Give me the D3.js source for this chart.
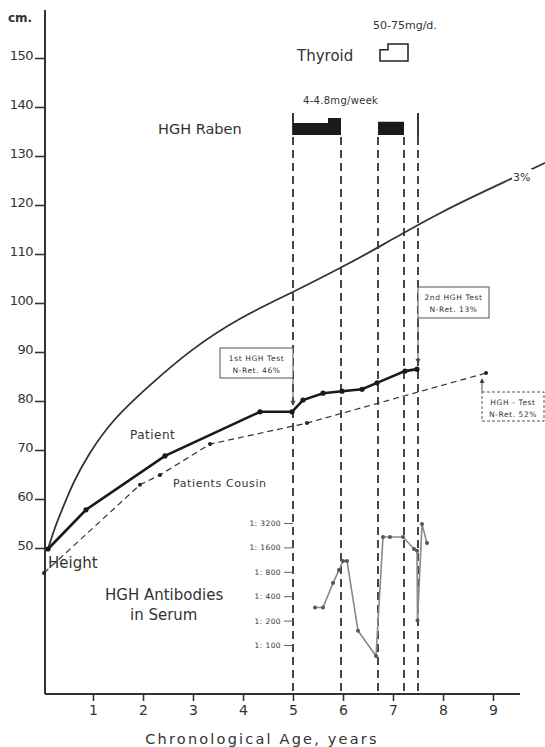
<!DOCTYPE html>
<html><head><meta charset="utf-8">
<script src="https://cdn.jsdelivr.net/npm/d3@7"></script>
<style>
body{margin:0;background:#fff;}
svg text{font-family:"DejaVu Sans",sans-serif;fill:#333;}
</style></head>
<body><svg id="c" width="545" height="747"></svg>
<script>
// ---------- data ----------
const heightTicks = [50,60,70,80,90,100,110,120,130,140,150];
const ageTicks = [1,2,3,4,5,6,7,8,9];
const p3Ages   = [0.1,0.24,0.38,0.6,0.9,1.38,2.14,2.94,3.94,5.0,5.98,6.72,7.94,9.44,10.04];
const p3Height = [49.8,54.3,57.8,63.3,69.0,76.1,83.3,90.4,97.1,102.2,107.3,111.4,118.6,125.7,128.6];
const patientAges   = [0.1,0.86,2.44,4.34,4.98,5.2,5.6,5.98,6.38,6.68,7.24,7.48];
const patientHeight = [49.8,57.8,68.8,77.8,77.8,80.2,81.6,82.0,82.4,83.7,86.1,86.5];
const cousinAges   = [0.02,1.94,2.34,3.34,5.28,8.86];
const cousinHeight = [44.9,62.9,64.9,71.2,75.5,85.7];
const treatLines = [5.0,5.96,6.7,7.22,7.5];           // therapy start/stop ages
const hghStart = [5.0,5.7,6.7];
const hghEnd   = [5.7,5.96,7.22];
const hghDose  = [4.0,4.8,4.2];                        // mg/week
const thyStart = [6.74,6.9];
const thyEnd   = [6.9,7.3];
const thyDose  = [50,75];                              // mg/d
const abTicks = [100,200,400,800,1600,3200];
const abAges   = [5.44,5.6,5.8,5.92,6.0,6.08,6.3,6.66,6.8,6.94,7.2,7.42,7.48,7.49,7.58,7.68];
const abTiter  = [290,290,580,840,1090,1090,150,73,2150,2150,2150,1530,1450,200,3100,1810];
const testAges = [5.0,7.5,8.86];
const testWho  = ["patient","patient","cousin"];
const testLabel = ["1st HGH Test","2nd HGH Test","HGH - Test"];
const testRet  = ["N-Ret. 46%","N-Ret. 13%","N-Ret. 52%"];

// ---------- scales ----------
const svg = d3.select("#c");
const x = d3.scaleLinear().domain([0,10]).range([43,543]);
const y = d3.scaleLinear().domain([50,150]).range([548,58]);
const yAb = d3.scaleLog().base(2).domain([100,3200]).range([645,523]);
const hghH = d3.scaleLinear().domain([4,4.8]).range([12,17]);
const thyH = d3.scaleLinear().domain([0,75]).range([0,17]);
const AX = 45, AY = 694;

// ---------- axes ----------
svg.append("line").attr("x1",AX).attr("x2",AX).attr("y1",10).attr("y2",AY)
  .attr("stroke","#333").attr("stroke-width",2);
svg.append("line").attr("x1",AX).attr("x2",520).attr("y1",AY).attr("y2",AY)
  .attr("stroke","#333").attr("stroke-width",2);

const gy = svg.append("g").attr("transform",`translate(${AX},0)`)
  .call(d3.axisLeft(y).tickValues(heightTicks).tickSize(10).tickPadding(2));
gy.select(".domain").remove();
gy.selectAll(".tick line").attr("stroke","#333").attr("stroke-width",1.6);
gy.selectAll(".tick text").attr("dy","0.1em").attr("font-family","Liberation Sans, sans-serif")
  .attr("font-size",13).attr("fill","#444").attr("letter-spacing","-0.5");
svg.append("text").attr("x",8).attr("y",22).text("cm.").attr("font-size",12).attr("font-weight","bold").attr("fill","#444");

const gx = svg.append("g").attr("transform",`translate(0,${AY})`)
  .call(d3.axisBottom(x).tickValues(ageTicks).tickSize(7).tickPadding(4).tickFormat(d3.format("d")));
gx.select(".domain").remove();
gx.selectAll(".tick line").attr("stroke","#333").attr("stroke-width",1.6);
gx.selectAll(".tick text").attr("font-family","DejaVu Sans, sans-serif").attr("font-size",14).attr("fill","#555");
svg.append("text").attr("x",262).attr("y",744).attr("text-anchor","middle").attr("font-size",14.5)
  .attr("letter-spacing","2.2").attr("fill","#444").text("Chronological  Age,  years");

// ---------- treatment markers ----------
treatLines.forEach(a=>{
  svg.append("line").attr("x1",x(a)).attr("x2",x(a)).attr("y1",137).attr("y2",AY)
    .attr("stroke","#333").attr("stroke-width",1.8).attr("stroke-dasharray","8,5");
});
svg.append("line").attr("x1",x(treatLines[0])).attr("x2",x(treatLines[0])).attr("y1",113).attr("y2",135)
  .attr("stroke","#222").attr("stroke-width",1.8);
svg.append("line").attr("x1",x(7.5)).attr("x2",x(7.5)).attr("y1",113).attr("y2",137)
  .attr("stroke","#222").attr("stroke-width",1.8);
hghStart.forEach((s,i)=>{
  const h = hghH(hghDose[i]);
  svg.append("rect").attr("x",x(s)).attr("width",x(hghEnd[i])-x(s))
    .attr("y",135-h).attr("height",h).attr("fill","#1a1a1a");
});
// thyroid step box
{
  const pts = [[x(thyStart[0]),61],[x(thyStart[0]),61-thyH(thyDose[0])],[x(thyEnd[0]),61-thyH(thyDose[0])],
    [x(thyStart[1]),61-thyH(thyDose[1])],[x(thyEnd[1]),61-thyH(thyDose[1])],[x(thyEnd[1]),61]];
  svg.append("path").attr("d",d3.line()(pts)+"Z").attr("fill","none").attr("stroke","#222").attr("stroke-width",1.5);
}
svg.append("text").attr("x",373).attr("y",29).attr("font-size",11).attr("fill","#333").text("50-75mg/d.");
svg.append("text").attr("x",297).attr("y",61).attr("font-size",15).attr("fill","#333").text("Thyroid");
svg.append("text").attr("x",303).attr("y",104).attr("font-size",10).attr("letter-spacing","0.3").attr("fill","#333").text("4-4.8mg/week");
svg.append("text").attr("x",158).attr("y",134).attr("font-size",14.5).attr("fill","#333").text("HGH  Raben");

// ---------- curves ----------
const smooth = d3.line().x(d=>x(d[0])).y(d=>y(d[1])).curve(d3.curveBasis);
svg.append("path").datum(d3.zip(p3Ages,p3Height))
  .attr("d",smooth).attr("fill","none").attr("stroke","#333").attr("stroke-width",1.8);
svg.append("rect").attr("x",512).attr("y",169).attr("width",20).attr("height",14).attr("fill","#fff");
svg.append("text").attr("x",513).attr("y",181).attr("font-size",11).attr("fill","#333").text("3%");

const lin = d3.line().x(d=>x(d[0])).y(d=>y(d[1]));
const pat = d3.zip(patientAges,patientHeight);
svg.append("path").datum(pat).attr("d",lin).attr("fill","none").attr("stroke","#1a1a1a").attr("stroke-width",2.6);
svg.selectAll(".pdot").data(pat).join("circle").attr("cx",d=>x(d[0])).attr("cy",d=>y(d[1])).attr("r",2.6).attr("fill","#1a1a1a");

const cou = d3.zip(cousinAges,cousinHeight);
svg.append("path").datum(cou).attr("d",lin).attr("fill","none").attr("stroke","#333").attr("stroke-width",1.2).attr("stroke-dasharray","6,4");
svg.selectAll(".cdot").data(cou).join("circle").attr("cx",d=>x(d[0])).attr("cy",d=>y(d[1])).attr("r",2).attr("fill","#222");

svg.append("text").attr("x",130).attr("y",439).attr("font-size",12).attr("letter-spacing","0.5").attr("fill","#444").text("Patient");
svg.append("text").attr("x",173).attr("y",487).attr("font-size",11).attr("letter-spacing","0.6").attr("fill","#444").text("Patients Cousin");
svg.append("text").attr("x",48).attr("y",568).attr("font-size",15).attr("fill","#333").text("Height");

// ---------- test annotations ----------
function interp(ages,vals,a){ return d3.scaleLinear().domain(ages).range(vals)(a); }
const boxes = [
  {x0:220,x1:293,y0:348,y1:378,dash:null},
  {x0:418,x1:489,y0:287,y1:318,dash:null},
  {x0:482,x1:544,y0:392,y1:421,dash:"3,2"}
];
testAges.forEach((a,i)=>{
  const b = boxes[i];
  const yv = testWho[i]==="patient" ? interp(patientAges,patientHeight,a) : interp(cousinAges,cousinHeight,a);
  const ax = i===2 ? x(a)-4 : x(a);
  svg.append("rect").attr("x",b.x0).attr("y",b.y0).attr("width",b.x1-b.x0).attr("height",b.y1-b.y0)
    .attr("fill","#fff").attr("stroke","#555").attr("stroke-width",1).attr("stroke-dasharray",b.dash);
  const cx=(b.x0+b.x1)/2;
  svg.append("text").attr("x",cx).attr("y",b.y0+13).attr("text-anchor","middle").attr("font-size",7.5)
    .attr("letter-spacing","0.6").attr("fill","#555").text(testLabel[i]);
  svg.append("text").attr("x",cx).attr("y",b.y0+25).attr("text-anchor","middle").attr("font-size",7.5)
    .attr("letter-spacing","0.6").attr("fill","#555").text(testRet[i]);
  if(i<2){
    const tip = y(yv)-5;
    svg.append("line").attr("x1",ax).attr("x2",ax).attr("y1",b.y1).attr("y2",tip-4).attr("stroke","#555").attr("stroke-width",1);
    svg.append("path").attr("d",`M${ax-2.5},${tip-5}L${ax+2.5},${tip-5}L${ax},${tip}Z`).attr("fill","#444");
  } else {
    const tip = y(yv)+5;
    svg.append("line").attr("x1",ax).attr("x2",ax).attr("y1",b.y0).attr("y2",tip+4).attr("stroke","#555").attr("stroke-width",1);
    svg.append("path").attr("d",`M${ax-2.5},${tip+5}L${ax+2.5},${tip+5}L${ax},${tip}Z`).attr("fill","#444");
  }
});

// ---------- antibodies ----------
const gab = svg.append("g").attr("transform",`translate(${x(5.0)},0)`)
  .call(d3.axisLeft(yAb).tickValues(abTicks).tickSize(9).tickPadding(3).tickFormat(d=>"1: "+d));
gab.select(".domain").remove();
gab.selectAll(".tick line").attr("stroke","#666").attr("stroke-width",1);
gab.selectAll(".tick text").attr("font-size",7.5).attr("fill","#777").attr("letter-spacing","0.4");
const ab = d3.zip(abAges,abTiter);
svg.append("path").datum(ab).attr("d",d3.line().x(d=>x(d[0])).y(d=>yAb(d[1])))
  .attr("fill","none").attr("stroke","#8a8a8a").attr("stroke-width",1.6);
svg.selectAll(".adot").data(ab).join("circle").attr("cx",d=>x(d[0])).attr("cy",d=>yAb(d[1])).attr("r",2).attr("fill","#555");
svg.append("text").attr("x",105).attr("y",600).attr("font-size",15).attr("fill","#333").text("HGH  Antibodies");
svg.append("text").attr("x",130).attr("y",620).attr("font-size",15).attr("fill","#333").text("in  Serum");
</script></body></html>
